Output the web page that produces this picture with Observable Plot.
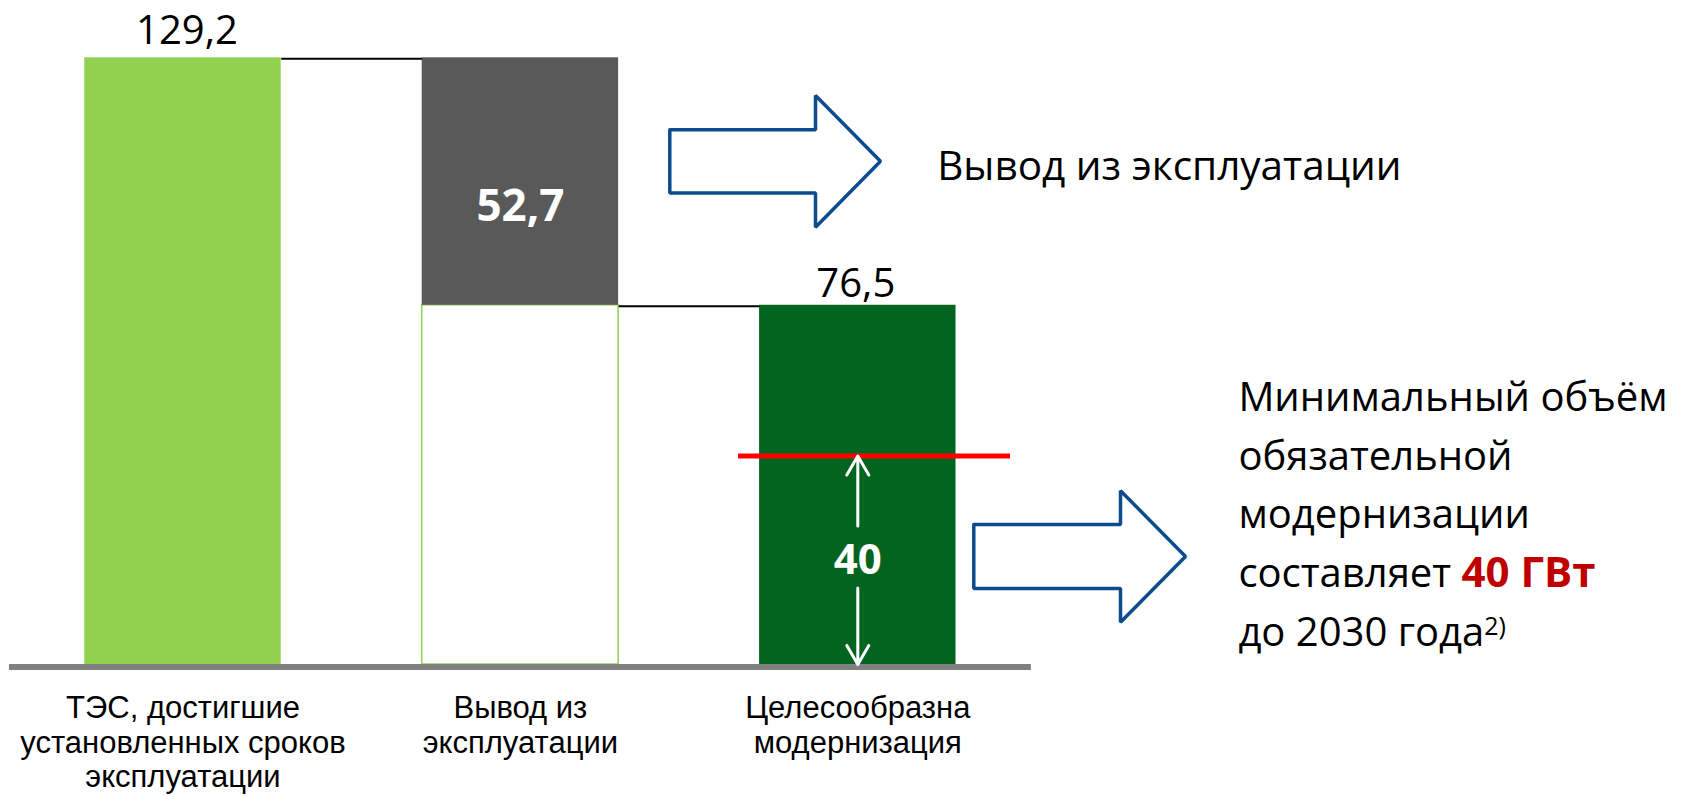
<!DOCTYPE html>
<html><head><meta charset="utf-8">
<script src="https://cdn.jsdelivr.net/npm/d3@7"></script>
<script src="https://cdn.jsdelivr.net/npm/@observablehq/plot@0.6"></script>
<style>
html,body{margin:0;padding:0;background:#fff;}
#chart svg{display:block;}
</style></head><body><div id="chart"></div>
<script>
// ---- data ----
const categories = [
  "ТЭС, достигшие\nустановленных сроков\nэксплуатации",
  "Вывод из\nэксплуатации",
  "Целесообразна\nмодернизация"
];
const totalValue = 129.2;      // ТЭС, достигшие установленных сроков
const retiredValue = 52.7;     // вывод из эксплуатации
const remainingValue = 76.5;   // целесообразна модернизация
const mandatoryValue = 40;     // минимальный объём модернизации
const mandatoryMarkLevel = 44.4; // level of the red marker line as drawn
const retiredNote = "Вывод из эксплуатации";
const noteLines = ["Минимальный объём", "обязательной", "модернизации", "составляет 40 ГВт", "до 2030 года2)"];
const highlightText = "40 ГВт";
const footnoteMark = "2)";

// ---- styles ----
const colors = {
  total: "#92D050", retired: "#595959", remaining: "#03641F",
  base: "#808080", arrow: "#0D4B8F", red: "#FF0000", highlight: "#C00000"
};
const fmt = v => String(v).replace(".", ",");
const halfBar = 0.2911;
const labelFont = "'Liberation Sans', Arial, Helvetica, sans-serif";
const mainFont = "'Open Sans', 'Noto Sans', sans-serif";

// ---- tables built from the data ----
const bars = [
  {i: 0, y1: 0, y2: totalValue, fill: colors.total},
  {i: 1, y1: totalValue - retiredValue, y2: totalValue, fill: colors.retired},
  {i: 2, y1: 0, y2: remainingValue, fill: colors.remaining}
];
const ghost = [{i: 1, y1: 0, y2: totalValue - retiredValue}];
const connectors = [
  {x1: 0 + halfBar, x2: 1 - halfBar, y: totalValue},
  {x1: 1 + halfBar, x2: 2 - halfBar, y: remainingValue}
];
const catTable = categories.map((c, i) => ({i, c}));

function blockArrow(x0, xb, xt, yc, bh, hh) {
  return [[x0, yc + bh], [xb, yc + bh], [xb, yc + hh], [xt, yc], [xb, yc - hh], [xb, yc - bh], [x0, yc - bh], [x0, yc + bh]];
}
const arrowTop = blockArrow(1.4428, 1.8746, 2.0672, 107.15, 6.75, 14.02);
const arrowBottom = blockArrow(2.3438, 2.7786, 2.9713, 23.0, 6.8, 14.02);

const countLevel = mandatoryMarkLevel / 2;

const chart = Plot.plot({
  width: 1701,
  height: 796,
  marginLeft: 0, marginRight: 0, marginTop: 57.3, marginBottom: 132,
  x: {type: "linear", domain: [-0.5409, 4.5006], axis: null},
  y: {domain: [0, totalValue], axis: null},
  color: {type: "identity"},
  style: {background: "white"},
  marks: [
    Plot.rect(ghost, {x1: d => d.i - halfBar, x2: d => d.i + halfBar, y1: "y1", y2: "y2", fill: "white", stroke: colors.total, strokeWidth: 1.5}),
    Plot.rect(bars, {x1: d => d.i - halfBar, x2: d => d.i + halfBar, y1: "y1", y2: "y2", fill: "fill"}),
    Plot.link(connectors, {x1: "x1", x2: "x2", y1: "y", y2: "y", stroke: "black", strokeWidth: 2, dy: 1}),
    Plot.ruleY([0], {x1: -halfBar - 0.2233, x2: 2 + halfBar + 0.2233, stroke: colors.base, strokeWidth: 6, dy: 2.5}),
    Plot.ruleY([mandatoryMarkLevel], {x1: 2 - halfBar - 0.0625, x2: 2 + halfBar + 0.1615, stroke: colors.red, strokeWidth: 5}),
    Plot.arrow([
      {y1: countLevel + 7.3, y2: mandatoryMarkLevel},
      {y1: countLevel - 5.9, y2: 0}
    ], {x1: () => 2, x2: () => 2, y1: "y1", y2: "y2", stroke: "white", strokeWidth: 3, headLength: 11, headAngle: 60}),
    Plot.text([mandatoryValue], {x: () => 2, y: () => countLevel, text: d => fmt(d), fill: "white", fontFamily: mainFont, fontWeight: "bold", fontSize: 42}),
    Plot.text([retiredValue], {x: () => 1, y: () => totalValue - retiredValue / 2, text: d => fmt(d), fill: "white", fontFamily: mainFont, fontWeight: "bold", fontSize: 44, dy: 25}),
    Plot.text([totalValue], {x: () => 0, y: d => d, text: d => fmt(d), fill: "black", fontFamily: mainFont, fontSize: 40, dy: -26.8, dx: 4}),
    Plot.text([remainingValue], {x: () => 2, y: d => d, text: d => fmt(d), fill: "black", fontFamily: mainFont, fontSize: 40, dy: -21, dx: -2}),
    Plot.text(catTable, {x: "i", y: () => 0, text: "c", fill: "black", fontFamily: labelFont, fontSize: 31, lineAnchor: "top", lineHeight: 1.12, dy: 28.7}),
    Plot.line(arrowTop, {x: d => d[0], y: d => d[1], stroke: colors.arrow, strokeWidth: 3.5, strokeLinejoin: "miter"}),
    Plot.line(arrowBottom, {x: d => d[0], y: d => d[1], stroke: colors.arrow, strokeWidth: 3.5, strokeLinejoin: "miter"}),
    Plot.text([retiredNote], {x: () => 2.2353, y: () => 105.88, text: d => d, textAnchor: "start", fill: "black", fontFamily: mainFont, fontSize: 40.5}),
    Plot.text([noteLines.join("\n")], {x: () => 3.128, y: () => 62.9, text: d => d, textAnchor: "start", lineAnchor: "top", lineHeight: 1.47, fill: "black", fontFamily: mainFont, fontSize: 40})
  ]
});

// rich text: bold red highlight and superscript footnote mark
d3.select(chart).selectAll("tspan").each(function () {
  const t = this.textContent;
  const sel = d3.select(this);
  if (t.endsWith(highlightText)) {
    sel.text(t.slice(0, t.length - highlightText.length));
    sel.append("tspan").attr("fill", colors.highlight).attr("font-weight", "bold").attr("font-size", 42).text(highlightText);
  } else if (t.endsWith(footnoteMark)) {
    sel.text(t.slice(0, t.length - footnoteMark.length));
    sel.append("tspan").attr("font-size", 25).attr("dy", -11).text(footnoteMark);
  }
});

document.getElementById("chart").appendChild(chart);
</script>
</body></html>
